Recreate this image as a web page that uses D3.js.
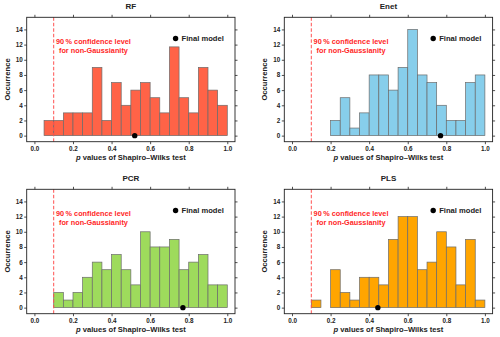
<!DOCTYPE html>
<meta charset="utf-8"/>
<title>Shapiro-Wilks histograms</title>
<script src="https://cdn.jsdelivr.net/npm/d3@7"></script>
<style>
    body { margin: 0; background: #fff; }
    svg { display: block; font-family: "Liberation Sans", Arial, sans-serif; }
    .axis path, .axis line { stroke: #222; stroke-width: 0.8px; }
    .axis text { font-size: 6.3px; font-weight: bold; fill: #222; }
    .bar { stroke: #6b6b6b; stroke-width: 0.7px; }
    .title { font-size: 8px; font-weight: bold; fill: #222; }
    .lab { font-size: 7.6px; font-weight: bold; fill: #222; }
    .note { font-size: 7.3px; font-weight: bold; fill: #ff2626; }
</style>
<svg id="chart" width="500" height="337"></svg>
<script>
    "use strict";

    // data (bin width 0.05)
    const models = ["RF", "Enet", "PCR", "PLS"];
    const binStarts = [0.05, 0.20, 0.10, 0.10];
    const rfCounts = [2, 2, 3, 3, 3, 9, 2, 7, 4, 6, 7, 5, 3, 11.7, 5, 3, 9, 6, 4];
    const enetCounts = [2, 5, 1, 3, 8, 8, 6, 9, 14, 8, 7, 4, 2, 2, 7, 8];
    const pcrCounts = [2, 1, 2, 4, 6, 5, 7, 5, 3, 10, 8, 8, 9, 5, 6, 7, 3, 3];
    const plsCounts = [1, 0, 5, 2, 1, 4, 4, 3, 9, 12, 12, 5, 6, 10, 8, 3, 9, 1];
    const finalModel = [0.52, 0.77, 0.77, 0.445];
    const colors = ["#ff6347", "#87ceeb", "#9edb5c", "#ffa500"];
    const xTicks = [0, 0.2, 0.4, 0.6, 0.8, 1.0];
    const yTicks = [0, 2, 4, 6, 8, 10, 12, 14];
    const binWidth = 0.05;
    const threshold = 0.1;

    const counts = [rfCounts, enetCounts, pcrCounts, plsCounts];

    const svg = d3.select("#chart");
    const colX = [26.7, 284.3];
    const rowY = [17.3, 189.3];
    const w = 208.3, h = 124.4;

    const x = d3.scaleLinear().domain([-0.04, 1.04]).range([0, w]);
    const y = d3.scaleLinear().domain([-0.8, 15.6]).range([h, 0]);

    models.forEach(function (name, i)
    {
        const g = svg.append("g")
            .attr("transform", "translate(" + colX[i % 2] + "," + rowY[Math.floor(i / 2)] + ")");

        const bins = counts[i].map(function (c, k)
        {
            return {x0: binStarts[i] + k * binWidth, n: c};
        });

        g.append("g").selectAll("rect")
            .data(bins)
            .enter()
            .append("rect")
            .attr("class", "bar")
            .attr("x", function (d) { return x(d.x0); })
            .attr("width", function (d) { return x(d.x0 + binWidth) - x(d.x0); })
            .attr("y", function (d) { return y(d.n); })
            .attr("height", function (d) { return y(0) - y(d.n); })
            .attr("fill", colors[i]);

        // threshold line
        g.append("line")
            .attr("x1", x(threshold)).attr("x2", x(threshold))
            .attr("y1", 0).attr("y2", h)
            .attr("stroke", "#ff5050")
            .attr("stroke-width", 1)
            .attr("stroke-dasharray", "3.5,2");

        const note = g.append("text")
            .attr("class", "note")
            .attr("text-anchor", "middle");
        note.append("tspan")
            .attr("x", x(0.306)).attr("y", y(12.4) + 2.6)
            .text("90\u2009% confidence level");
        note.append("tspan")
            .attr("x", x(0.306)).attr("y", y(11.3) + 2.6)
            .text("for non-Gaussianity");

        // legend
        g.append("circle")
            .attr("cx", x(0.732)).attr("cy", y(12.8)).attr("r", 2.7)
            .attr("fill", "#000");
        g.append("text")
            .attr("class", "lab")
            .attr("x", x(0.732) + 6).attr("y", y(12.8) + 2.7)
            .text("Final model");

        // final model p value
        g.append("circle")
            .attr("cx", x(finalModel[i])).attr("cy", y(0)).attr("r", 2.7)
            .attr("fill", "#000");

        // axes on all four sides
        g.append("g").attr("class", "axis")
            .call(d3.axisLeft(y).tickValues(yTicks).tickSize(2.5).tickPadding(1.5).tickFormat(d3.format("d")))
            .call(function (a) { a.select(".domain").remove(); });
        g.append("g").attr("class", "axis")
            .attr("transform", "translate(" + w + ",0)")
            .call(d3.axisRight(y).tickValues(yTicks).tickSize(2.5).tickFormat(""))
            .call(function (a) { a.select(".domain").remove(); });
        g.append("g").attr("class", "axis")
            .attr("transform", "translate(0," + h + ")")
            .call(d3.axisBottom(x).tickValues(xTicks).tickSize(2.5).tickPadding(2).tickFormat(d3.format(".1f")))
            .call(function (a) { a.select(".domain").remove(); });
        g.append("g").attr("class", "axis")
            .call(d3.axisTop(x).tickValues(xTicks).tickSize(2.5).tickFormat(""))
            .call(function (a) { a.select(".domain").remove(); });

        g.append("rect")
            .attr("width", w).attr("height", h)
            .attr("fill", "none")
            .attr("stroke", "#222")
            .attr("stroke-width", 0.9);

        g.append("text")
            .attr("class", "title")
            .attr("x", w / 2).attr("y", -8.5)
            .attr("text-anchor", "middle")
            .text(name);

        const xl = g.append("text")
            .attr("class", "lab")
            .attr("x", x(0.5)).attr("y", h + 18)
            .attr("text-anchor", "middle");
        xl.append("tspan").attr("font-style", "italic").text("p");
        xl.append("tspan").text(" values of Shapiro\u2013Wilks test");

        g.append("text")
            .attr("class", "lab")
            .attr("transform", "translate(-17," + (h / 2) + ") rotate(-90)")
            .attr("text-anchor", "middle")
            .text("Occurrence");
    });
</script>
